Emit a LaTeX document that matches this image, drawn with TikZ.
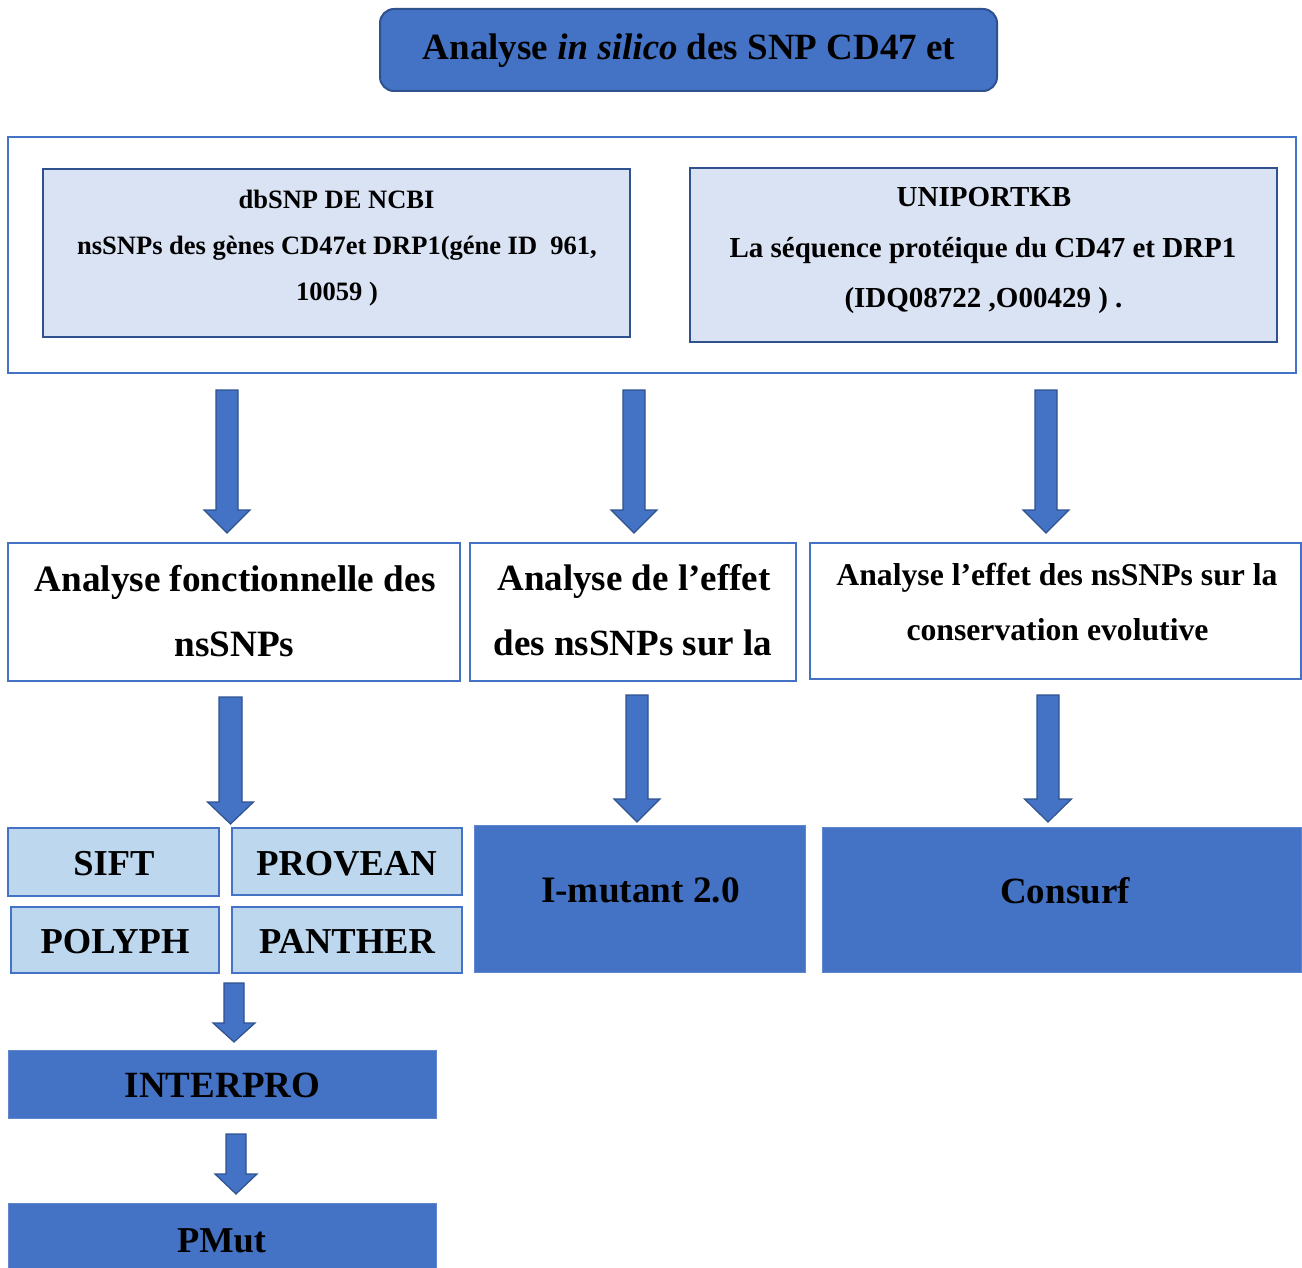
\documentclass[tikz,border=0pt]{standalone}
\usepackage{fontspec}
\setmainfont{Liberation Serif}
\definecolor{mainblue}{HTML}{4472C4}
\definecolor{darkblue}{HTML}{2F528F}
\definecolor{paleblue}{HTML}{DAE3F3}
\definecolor{lightblue}{HTML}{BDD7EE}
\newcommand\fsz[1]{\fontsize{#1}{#1}\selectfont\bfseries}
% block arrow: cx, top, headstart, tip, half shaft, half head
\newcommand\blockarrow[6]{%
  \draw[blockarr] ({#1-#5},#2) -- ({#1+#5},#2) -- ({#1+#5},#3) -- ({#1+#6},#3)
    -- (#1,#4) -- ({#1-#6},#3) -- ({#1-#5},#3) -- cycle;}
\tikzset{
  box/.style={rectangle, inner sep=0pt, outer sep=0pt},
  titlebox/.style={box, rounded corners=14pt, fill=mainblue, draw=darkblue, line width=2pt},
  outerbox/.style={box, draw=mainblue, line width=2pt, fill=white},
  srcbox/.style={box, fill=paleblue, draw=darkblue, line width=2.5pt},
  stepbox/.style={box, fill=white, draw=mainblue, line width=2pt},
  toolbox/.style={box, fill=lightblue, draw=mainblue, line width=2pt},
  darkbox/.style={box, fill=mainblue, draw=mainblue!85!white, line width=1pt},
  txt/.style={inner sep=0pt, anchor=base, text=black},
  blockarr/.style={fill=mainblue, draw=darkblue, line width=1.2pt, line join=miter},
}
\begin{document}
\begin{tikzpicture}[x=1pt,y=-1pt]
\useasboundingbox (0,0) rectangle (1302,1268);
\fill[white] (0,0) rectangle (1302,1268);

% title
\node[titlebox, minimum width=617pt, minimum height=82pt] (title) at (688.5,50) {};
\node[txt, font=\fsz{37}] (titletxt) at (689,60) {Analyse \textit{in silico} des SNP CD47 et};

% sources frame
\node[outerbox, minimum width=1288pt, minimum height=236pt] (outer) at (652,255) {};
\node[srcbox, minimum width=587pt, minimum height=168pt] (dbsnp) at (336.5,253) {};
\node[txt, font=\fsz{26.5}] (db1) at (336.5,209) {dbSNP DE NCBI};
\node[txt, font=\fsz{26.5}] (db2) at (337,255) {nsSNPs des gènes CD47et DRP1(géne ID\ \ 961,};
\node[txt, font=\fsz{26.5}] (db3) at (337,301) {10059 )};

\node[srcbox, minimum width=587pt, minimum height=174pt] (uni) at (983.5,255) {};
\node[txt, font=\fsz{29}] (un1) at (984,207) {UNIPORTKB};
\node[txt, font=\fsz{29}] (un2) at (983,257.5) {La séquence protéique du CD47 et DRP1};
\node[txt, font=\fsz{29}] (un3) at (983.5,308) {(IDQ08722 ,O00429 ) .};

% arrows from sources
\blockarrow{227}{390}{510}{533}{11}{23}
\blockarrow{634}{390}{510}{533}{11}{23}
\blockarrow{1046}{390}{510}{533}{11}{23}

% analysis steps
\node[stepbox, minimum width=452pt, minimum height=138pt] (func) at (234,612) {};
\node[txt, font=\fsz{37.2}] (fu1) at (235,591) {Analyse fonctionnelle des};
\node[txt, font=\fsz{37.2}] (fu2) at (234.5,656) {nsSNPs};

\node[stepbox, minimum width=326pt, minimum height=138pt] (stab) at (633,612) {};
\node[txt, font=\fsz{37}] (st1) at (634,590) {Analyse de l’effet};
\node[txt, font=\fsz{37}] (st2) at (633,655) {des nsSNPs sur la};

\node[stepbox, minimum width=491pt, minimum height=136pt] (cons) at (1055.5,611) {};
\node[txt, font=\fsz{31.7}] (co1) at (1057,585) {Analyse l’effet des nsSNPs sur la};
\node[txt, font=\fsz{31.7}] (co2) at (1057.5,640) {conservation evolutive};

% arrows to tools
\blockarrow{230.5}{697}{802}{824}{11.5}{23}
\blockarrow{637}{695}{799}{822}{11}{23}
\blockarrow{1048}{695}{799}{822}{11}{23.5}

% tools grid
\node[toolbox, minimum width=211pt, minimum height=68pt] (sift) at (113.5,862) {};
\node[txt, font=\fsz{36.5}] (siftt) at (114,875) {SIFT};
\node[toolbox, minimum width=230pt, minimum height=67pt] (provean) at (347,861.5) {};
\node[txt, font=\fsz{36.5}] (proveant) at (346.5,875) {PROVEAN};
\node[toolbox, minimum width=208pt, minimum height=66pt] (polyph) at (115,940) {};
\node[txt, font=\fsz{36.5}] (polypht) at (115,953) {POLYPH};
\node[toolbox, minimum width=230pt, minimum height=66pt] (panther) at (347,940) {};
\node[txt, font=\fsz{36.5}] (panthert) at (347,953) {PANTHER};

\node[darkbox, minimum width=331pt, minimum height=147pt] (imut) at (639.5,898.5) {};
\node[txt, font=\fsz{37.3}] (imutt) at (640.5,902) {I-mutant 2.0};
\node[darkbox, minimum width=479pt, minimum height=145pt] (consurf) at (1061.5,899.5) {};
\node[txt, font=\fsz{37}] (consurft) at (1065,903) {Consurf};

% lower chain
\blockarrow{234}{983}{1023}{1042}{10}{21}
\node[darkbox, minimum width=428pt, minimum height=68pt] (interpro) at (222,1084) {};
\node[txt, font=\fsz{37}] (interprot) at (222.5,1097) {INTERPRO};
\blockarrow{236}{1134}{1174}{1194}{10}{21}
\node[darkbox, minimum width=428pt, minimum height=72pt] (pmut) at (222,1239) {};
\node[txt, font=\fsz{36.4}] (pmutt) at (221.5,1252) {PMut};
\end{tikzpicture}
\end{document}
